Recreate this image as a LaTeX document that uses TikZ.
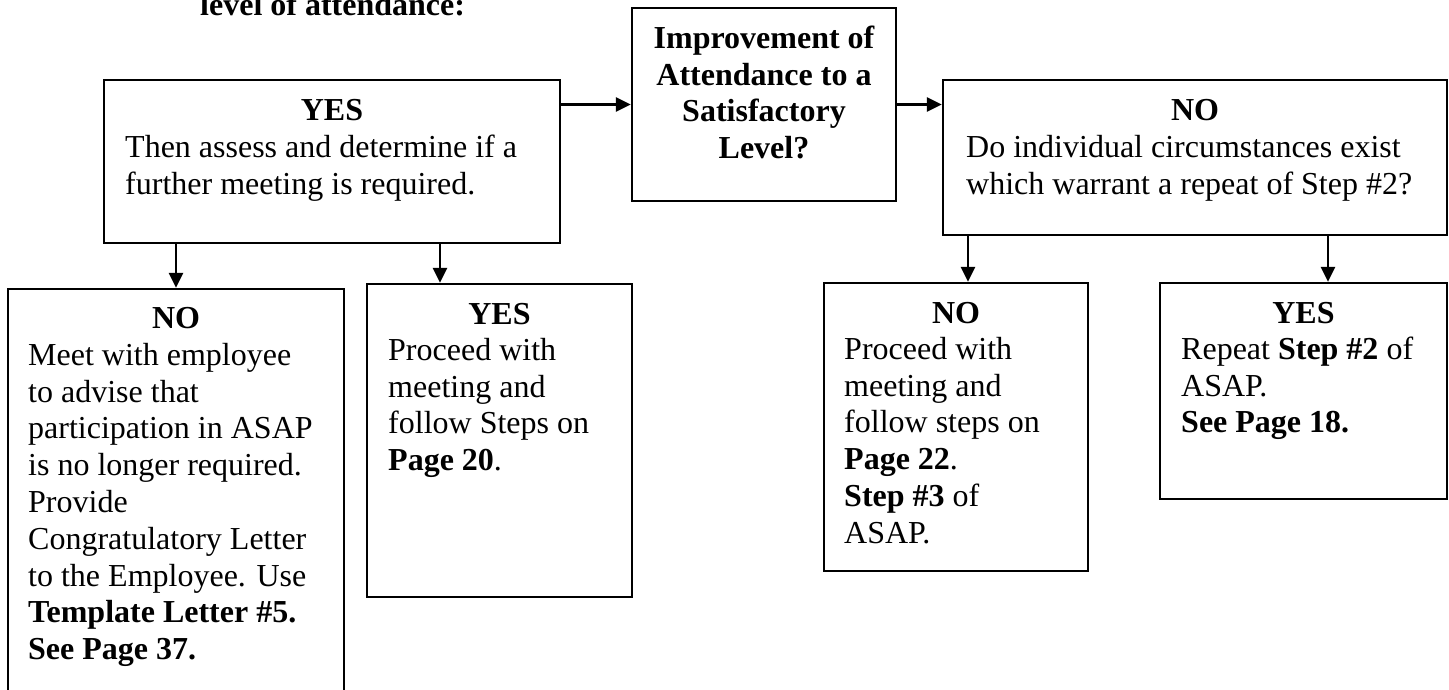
\documentclass[tikz,border=0pt]{standalone}
\usepackage{fontspec}
\setmainfont{Liberation Serif}
\usetikzlibrary{arrows.meta}
\begin{document}
\begin{tikzpicture}[x=1pt,y=-1pt,
  box/.style={draw, line width=2.3pt, rectangle, inner sep=0pt},
  body/.style={font=\fontsize{32}{36.8}\selectfont, inner sep=0pt, align=left, anchor=north west},
  head/.style={font=\fontsize{32}{36.8}\selectfont\bfseries, inner sep=0pt, anchor=base},
  arr/.style={line width=2.4pt, -{Triangle[length=15pt,width=14pt]}}
]
\useasboundingbox (0,0) rectangle (1449,689);
\clip (0,0) rectangle (1449,689);

% lead-in line from the text above
\node[head, anchor=base west] (lvl) at (200,15) {level of attendance:};

% boxes
\node[box, minimum width=456pt, minimum height=163pt] (box1) at (332,161.5) {};
\node[box, minimum width=264pt, minimum height=193pt] (q)    at (764,104.5) {};
\node[box, minimum width=504pt, minimum height=155pt] (no1)  at (1195,157.5) {};
\node[box, minimum width=336pt, minimum height=471pt] (no2)  at (176,524.5) {};
\node[box, minimum width=265pt, minimum height=313pt] (yes2) at (499.5,440.5) {};
\node[box, minimum width=264pt, minimum height=288pt] (no3)  at (956,427) {};
\node[box, minimum width=287pt, minimum height=216pt] (yes3) at (1303.5,391) {};

% question
\node[head, align=center, anchor=north] (qt) at (764,48-25.76)
  {\strut Improvement of\\Attendance to a\\Satisfactory\\Level?};

% box texts
\node[head] (h1) at (332,120) {YES};
\node[body] (t1) at (125,157-25.76) {\strut Then assess and determine if a\\further meeting is required.};

\node[head] (h2) at (1195,120) {NO};
\node[body] (t2) at (966,157-25.76) {\strut Do individual circumstances exist\\which warrant a repeat of Step \#2?};

\node[head] (h3) at (176,328) {NO};
\node[body] (t3) at (28,365-25.76) {\strut Meet with employee\\to advise that\\participation in ASAP\\is no longer required.\\Provide\\Congratulatory Letter\\to the Employee. Use\\\textbf{Template Letter \#5.}\\\textbf{See Page 37.}};

\node[head] (h4) at (499.5,324) {YES};
\node[body] (t4) at (388,360-25.76) {\strut Proceed with\\meeting and\\follow Steps on\\\textbf{Page 20}.};

\node[head] (h5) at (956,323) {NO};
\node[body] (t5) at (844,359-25.76) {\strut Proceed with\\meeting and\\follow steps on\\\textbf{Page 22}.\\\textbf{Step \#3} of\\ASAP.};

\node[head] (h6) at (1303.5,323) {YES};
\node[body] (t6) at (1181,359-25.76) {\strut Repeat \textbf{Step \#2} of\\ASAP.\\\textbf{See Page 18.}};

% connectors
\draw[arr] (box1.east |- q.west) -- (q.west);
\draw[arr] (q.east) -- (q.east -| no1.west);
\draw[arr] (box1.south -| no2.north) -- (no2.north);
\draw[arr] ([xshift=108pt]box1.south) -- ([xshift=108pt]box1.south |- yes2.north);
\draw[arr] ([xshift=12pt]no3.north |- no1.south) -- ([xshift=12pt]no3.north);
\draw[arr] ([xshift=24.5pt]yes3.north |- no1.south) -- ([xshift=24.5pt]yes3.north);
\end{tikzpicture}
\end{document}
